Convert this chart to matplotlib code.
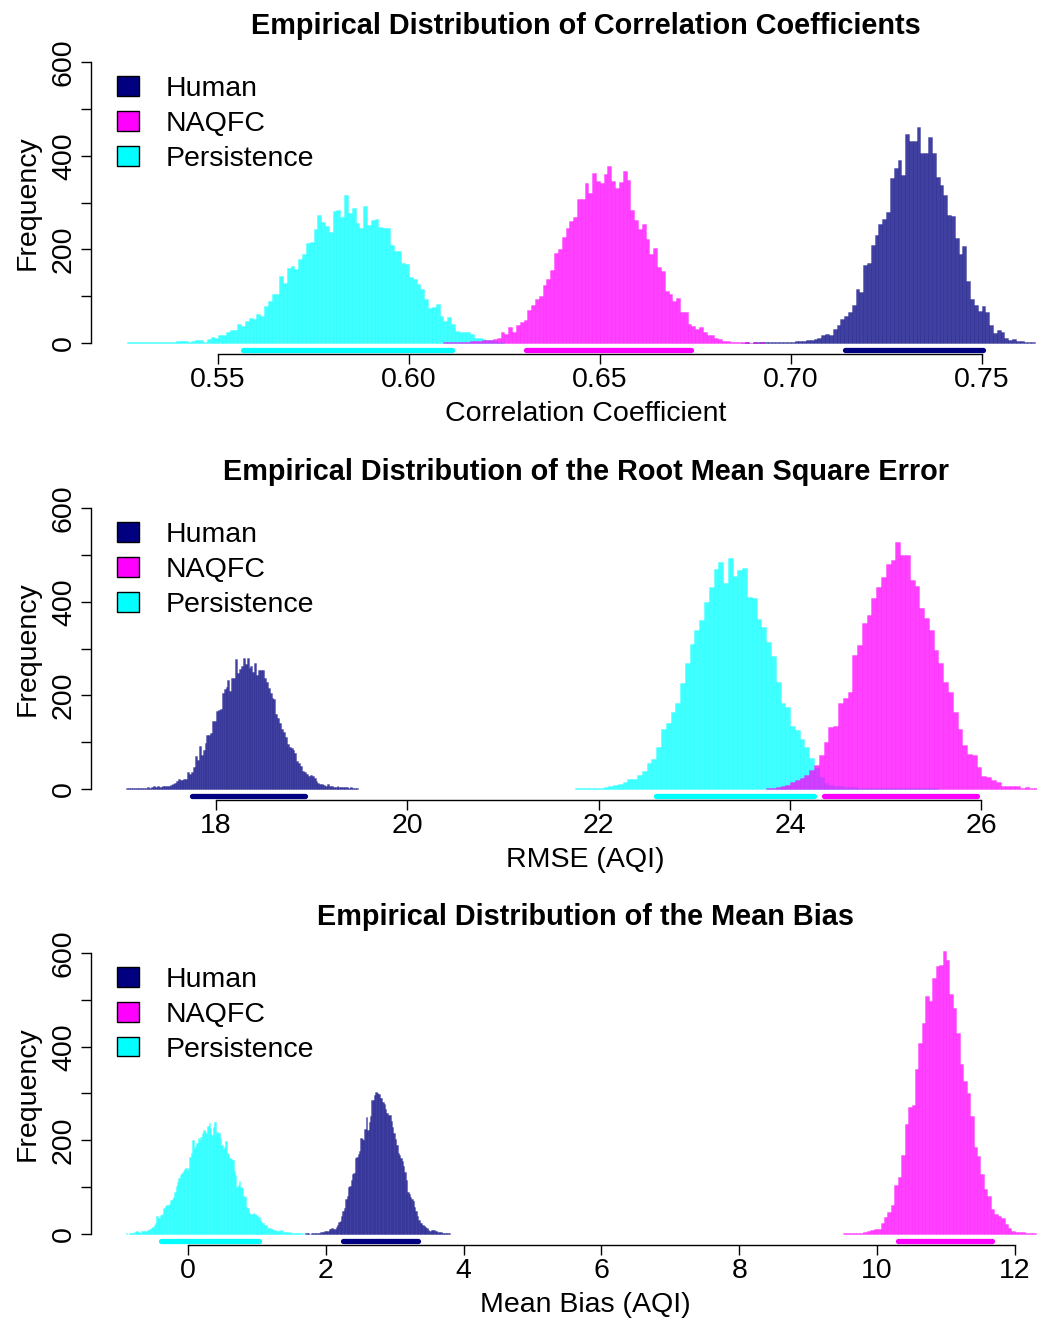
import numpy as np
import matplotlib.pyplot as plt
from matplotlib.patches import Patch
from matplotlib.colors import to_rgba

plt.rcParams['font.family'] = ['Liberation Sans', 'DejaVu Sans']

labels = ['Human', 'NAQFC', 'Persistence']
colors = ['navy', 'magenta', 'cyan']
draw_order = [0, 2, 1]   # NAQFC drawn on top

# ---- correlation coefficient, bin width 0.001
cor_width = 0.001
cor_human_start = 0.687
cor_human = [0, 1, 0, 1, 1, 1, 1, 1, 1, 2, 1, 1, 2, 2, 3, 3,
             4, 5, 6, 9, 10, 17, 19, 16, 29, 38, 51, 58, 66, 80, 116, 109, 166, 170, 209, 231,
             253, 265, 279, 352, 374, 391, 359, 446, 432, 432, 462, 406, 406, 441, 406, 355,
             337, 317, 273, 271, 225, 189, 207, 133, 93, 81, 68, 78, 65, 38, 21, 28, 23, 10,
             6, 8, 4, 3, 2, 1, 1]
cor_naqfc_start = 0.609
cor_naqfc = [1, 1, 1, 2, 1, 2, 2, 3, 3, 4, 6, 6, 7, 8, 11,
             23, 19, 33, 24, 38, 44, 49, 70, 81, 94, 101, 124, 137, 156, 193, 201, 227, 246,
             260, 270, 307, 307, 341, 320, 364, 347, 341, 362, 379, 347, 332, 344, 368, 348,
             284, 263, 243, 254, 221, 190, 203, 162, 154, 111, 105, 90, 95, 65, 65, 40, 35,
             29, 33, 24, 16, 16, 10, 9, 4, 3, 2, 1, 1, 1, 1, 0, 1, 0, 1]
cor_persist_start = 0.526
cor_persist = [1, 1, 1, 1, 1, 2, 1, 2, 2, 1, 1, 1, 2, 3, 4, 3, 1, 4, 6, 6, 2, 8, 13, 11, 17,
               16, 24, 28, 28, 40, 36, 47, 52, 51, 62, 57, 78, 89, 104, 105, 143, 128, 161,
               165, 157, 180, 190, 213, 215, 243, 273, 259, 250, 238, 282, 285, 270, 316, 278,
               288, 256, 245, 293, 252, 263, 264, 247, 246, 246, 210, 196, 197, 170, 168, 140,
               137, 126, 116, 93, 74, 76, 82, 58, 47, 55, 40, 25, 24, 24, 23, 19, 10, 11, 8,
               6, 5, 3, 2, 1]
cor_ci = [(0.7142, 0.7504), (0.6307, 0.6739), (0.5565, 0.6113)]

# ---- RMSE
rmse_human_start, rmse_human_width = 17.06, 0.02
rmse_human = [1, 1, 2, 1, 1, 2, 1, 2, 2, 1, 2, 3, 2, 3, 5, 4, 6, 4, 3, 5, 7, 5, 6, 9, 10,
              13, 17, 21, 18, 19, 20, 22, 37, 32, 35, 46, 70, 62, 92, 72, 84, 97, 115, 116,
              120, 144, 146, 167, 168, 170, 204, 214, 218, 233, 210, 236, 238, 277, 247, 256,
              262, 279, 266, 279, 258, 262, 250, 268, 243, 255, 253, 253, 236, 228, 215, 204,
              195, 191, 160, 151, 140, 127, 122, 110, 95, 90, 87, 82, 76, 60, 56, 48, 39, 35,
              31, 28, 30, 28, 23, 17, 13, 11, 11, 9, 7, 11, 6, 5, 4, 3, 5, 4, 3, 4, 3, 3, 2,
              3, 2, 1, 2]
rmse_naqfc_start, rmse_naqfc_width = 23.75, 0.05
rmse_naqfc = [1, 2, 4, 6, 9, 14, 19, 24, 30, 40, 51, 72, 101, 132, 135, 183, 194, 206, 286,
              307, 355, 372, 407, 432, 453, 480, 489, 527, 500, 500, 446, 433, 386, 365, 340,
              297, 270, 228, 206, 165, 127, 94, 74, 72, 46, 28, 26, 18, 14, 7, 5, 5, 7, 2, 4,
              2, 1]
rmse_persist_start, rmse_persist_width = 21.75, 0.05
rmse_persist = [1, 2, 1, 1, 1, 2, 4, 5, 9, 11, 14, 21, 21, 30, 38, 55, 63, 90, 127, 140, 164,
                183, 227, 270, 309, 339, 362, 399, 432, 471, 484, 441, 494, 455, 468, 473, 411,
                409, 364, 347, 315, 285, 228, 183, 176, 135, 126, 107, 90, 65, 44, 25, 12, 9,
                6, 5, 4, 4, 3, 2, 1, 1, 1, 1, 1, 1, 1, 1, 1, 1, 1, 1, 1, 1, 1, 1]
rmse_ci = [(17.75, 18.93), (24.35, 25.95), (22.60, 24.25)]

# ---- mean bias
bias_human_start, bias_human_width = 1.70, 0.02
bias_human = [1, 1, 1, 0, 1, 1, 2, 2, 2, 1, 2, 4, 3, 4, 5, 5, 6, 10, 11, 12, 11, 11, 15, 19,
              25, 27, 37, 48, 55, 74, 80, 101, 102, 115, 127, 131, 162, 165, 170, 177, 204,
              202, 200, 225, 249, 222, 240, 251, 285, 286, 297, 304, 302, 299, 290, 290, 281,
              278, 266, 258, 254, 254, 242, 229, 215, 202, 190, 172, 168, 162, 155, 144, 133,
              114, 90, 85, 78, 74, 69, 58, 48, 38, 30, 24, 23, 18, 16, 14, 12, 7, 5, 9, 9, 8,
              6, 5, 4, 3, 3, 2, 2, 1, 1, 1, 1]
bias_naqfc_start, bias_naqfc_width = 9.50, 0.05
bias_naqfc = [1, 1, 1, 1, 2, 2, 3, 5, 9, 11, 11, 23, 36, 47, 62, 104, 122, 168, 235, 272, 276,
              352, 407, 451, 509, 497, 546, 573, 575, 605, 585, 512, 483, 429, 362, 327, 302,
              251, 185, 167, 127, 96, 80, 53, 43, 38, 33, 20, 12, 6, 4, 4, 3, 2, 1, 1]
bias_persist_start, bias_persist_width = -0.90, 0.02
bias_persist = [1, 0, 1, 1, 1, 2, 3, 6, 5, 3, 2, 5, 6, 6, 5, 7, 8, 10, 12, 14, 19, 22, 37, 34,
                33, 41, 42, 55, 60, 62, 61, 64, 73, 75, 78, 90, 102, 110, 119, 126, 131, 135,
                138, 141, 136, 140, 165, 172, 201, 183, 188, 194, 204, 201, 207, 216, 222, 218,
                213, 230, 236, 226, 212, 228, 240, 215, 218, 215, 205, 190, 181, 186, 199, 172,
                170, 162, 160, 158, 135, 126, 101, 105, 112, 101, 98, 81, 78, 58, 55, 44, 43,
                43, 44, 43, 40, 37, 35, 30, 26, 23, 19, 18, 12, 13, 12, 11, 10, 9, 8, 6, 5, 6,
                7, 5, 4, 4, 3, 3, 2, 3, 2, 1, 1, 2, 1, 1, 1, 0, 1]
bias_ci = [(2.25, 3.34), (10.30, 11.67), (-0.39, 1.03)]

panels = [
    dict(title='Empirical Distribution of Correlation Coefficients',
         xlabel='Correlation Coefficient',
         hists=[(cor_human, cor_human_start, cor_width),
                (cor_naqfc, cor_naqfc_start, cor_width),
                (cor_persist, cor_persist_start, cor_width)],
         ci=cor_ci, xlim=(0.5167, 0.7758),
         xticks=[0.55, 0.60, 0.65, 0.70, 0.75],
         xticklabels=['0.55', '0.60', '0.65', '0.70', '0.75'],
         bottom=0.7314),
    dict(title='Empirical Distribution of the Root Mean Square Error',
         xlabel='RMSE (AQI)',
         hists=[(rmse_human, rmse_human_start, rmse_human_width),
                (rmse_naqfc, rmse_naqfc_start, rmse_naqfc_width),
                (rmse_persist, rmse_persist_start, rmse_persist_width)],
         ci=rmse_ci, xlim=(16.694, 27.03),
         xticks=[18, 20, 22, 24, 26],
         xticklabels=['18', '20', '22', '24', '26'],
         bottom=0.3930),
    dict(title='Empirical Distribution of the Mean Bias',
         xlabel='Mean Bias (AQI)',
         hists=[(bias_human, bias_human_start, bias_human_width),
                (bias_naqfc, bias_naqfc_start, bias_naqfc_width),
                (bias_persist, bias_persist_start, bias_persist_width)],
         ci=bias_ci, xlim=(-1.408, 12.946),
         xticks=[0, 2, 4, 6, 8, 10, 12],
         xticklabels=['0', '2', '4', '6', '8', '10', '12'],
         bottom=0.0554),
]

FS = 20.5
ci_y = -15


def draw_panel(ax, p):
    for i in draw_order:
        counts, start, width = p['hists'][i]
        col = colors[i]
        counts = np.asarray(counts)
        lefts = start + width * np.arange(len(counts))
        ax.bar(lefts, counts, width=width, align='edge',
               facecolor=to_rgba(col, 0.75), edgecolor=to_rgba(col, 0.35), linewidth=0.5)
    for (lo, hi), col in zip(p['ci'], colors):
        ax.plot([lo, hi], [ci_y, ci_y], color=col, lw=3.8, solid_capstyle='round')

    ax.set_xlim(*p['xlim'])
    ax.set_ylim(-24, 624)
    for s in ['top', 'right']:
        ax.spines[s].set_visible(False)
    ax.spines['left'].set_bounds(0, 600)
    ax.spines['bottom'].set_bounds(p['xticks'][0], p['xticks'][-1])
    ax.spines['left'].set_linewidth(1.0)
    ax.spines['bottom'].set_linewidth(1.0)

    ax.set_yticks(np.arange(0, 601, 100))
    ax.set_yticklabels(['0', '', '200', '', '400', '', '600'], rotation=90, va='center')
    ax.set_xticks(p['xticks'])
    ax.set_xticklabels(p['xticklabels'])
    ax.tick_params(axis='both', direction='out', length=7.2, width=1.0, labelsize=FS)
    ax.tick_params(axis='y', pad=3)
    ax.tick_params(axis='x', pad=2)

    ax.set_title(p['title'], fontsize=20.8, fontweight='bold', pad=12)
    ax.set_xlabel(p['xlabel'], fontsize=FS, labelpad=5.6)
    ax.set_ylabel('Frequency', fontsize=FS, labelpad=7.6)

    handles = [Patch(facecolor=c, edgecolor='black', linewidth=1.0) for c in colors]
    ax.legend(handles, labels, loc='upper left', bbox_to_anchor=(0.0263, 0.917),
              frameon=False, fontsize=FS, handlelength=0.76, handleheight=0.67,
              handletextpad=0.95, labelspacing=0.31, borderpad=0, borderaxespad=0)


fig = plt.figure(figsize=(10.37, 13.18), dpi=100)
for p in panels:
    ax = fig.add_axes([0.0878, p['bottom'], 0.9537, 0.2299])
    draw_panel(ax, p)

fig.savefig('out.png', dpi=100)
